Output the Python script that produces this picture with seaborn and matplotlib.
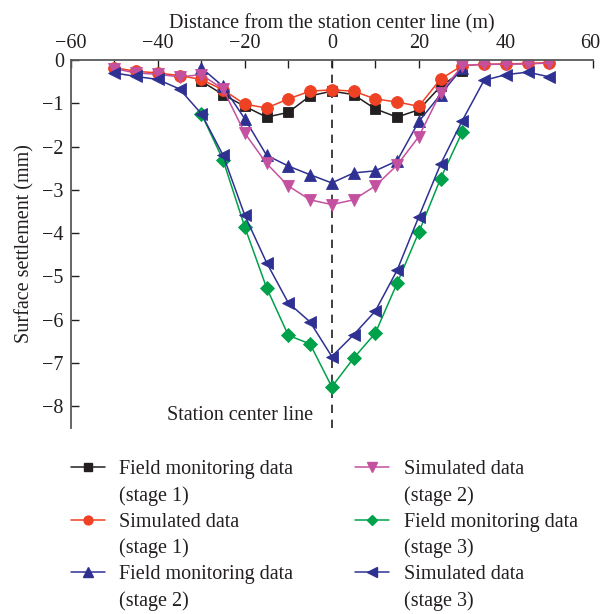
import matplotlib
matplotlib.use("Agg")
import matplotlib.pyplot as plt
from matplotlib.lines import Line2D
from matplotlib.transforms import ScaledTranslation
import seaborn as sns
import pandas as pd

# Distances from the station center line (m)
x_wide = [-50, -45, -40, -35, -30, -25, -20, -15, -10, -5, 0, 5, 10, 15, 20, 25, 30, 35, 40, 45, 50]
x_mid = [-30, -25, -20, -15, -10, -5, 0, 5, 10, 15, 20, 25, 30]

# Surface settlement (mm)
field_stage1 = [-0.49, -0.80, -1.07, -1.32, -1.21, -0.83, -0.72, -0.80, -1.13, -1.32, -1.15, -0.61, -0.26]
sim_stage1 = [-0.18, -0.26, -0.30, -0.36, -0.45, -0.69, -1.02, -1.11, -0.90, -0.72, -0.69,
              -0.72, -0.90, -0.97, -1.07, -0.44, -0.13, -0.10, -0.09, -0.08, -0.06]
field_stage2 = [-0.18, -0.61, -1.36, -2.20, -2.45, -2.65, -2.84, -2.61, -2.56, -2.33, -1.42, -0.80, -0.18]
sim_stage2 = [-0.20, -0.30, -0.33, -0.39, -0.34, -0.67, -1.69, -2.39, -2.91, -3.23, -3.34,
              -3.23, -2.91, -2.43, -1.77, -0.76, -0.13, -0.10, -0.10, -0.09, -0.07]
field_stage3 = [-1.24, -2.31, -3.86, -5.26, -6.36, -6.56, -7.55, -6.89, -6.31, -5.16, -3.98, -2.74, -1.66]
sim_stage3 = [-0.30, -0.38, -0.45, -0.67, -1.24, -2.20, -3.59, -4.68, -5.61, -6.05, -6.85,
              -6.35, -5.80, -4.86, -3.62, -2.41, -1.40, -0.47, -0.34, -0.28, -0.39]

names = ["Field monitoring data", "Simulated data",
         "Field monitoring data", "Simulated data",
         "Field monitoring data", "Simulated data"]
stages = ["(stage 1)", "(stage 1)", "(stage 2)", "(stage 2)", "(stage 3)", "(stage 3)"]

series = [
    (x_mid, field_stage1, "#231f20", "s", 7),
    (x_wide, sim_stage1, "#ef4123", "o", 8.5),
    (x_mid, field_stage2, "#2e3192", "^", 9),
    (x_wide, sim_stage2, "#c4519f", "v", 9),
    (x_mid, field_stage3, "#00a14b", "D", 7),
    (x_wide, sim_stage3, "#2e3192", "<", 9),
]

FS = 14.5
TXT = "#231f20"

sns.set_style("ticks")
plt.rcParams["font.family"] = ["Liberation Serif", "DejaVu Serif"]

fig = plt.figure(figsize=(6.0, 6.14), dpi=100)
ax = fig.add_axes([0.118, 0.303, 0.870, 0.5993])

handles = []
for (xs, ys, color, marker, ms), name in zip(series, names):
    df = pd.DataFrame({"x": xs, "y": ys})
    sns.lineplot(data=df, x="x", y="y", ax=ax, color=color, marker=marker,
                 markersize=ms, markeredgewidth=0.6, markeredgecolor=color,
                 linewidth=1.1, legend=False, sort=False)
    handles.append(Line2D([], [], color=color, marker=marker, markersize=ms * 0.75,
                          markeredgecolor=color, linewidth=1.1))

ax.axvline(0, color=TXT, linestyle=(0, (5, 4)), linewidth=1.2, zorder=0)
ax.text(-21.2, -8.22, "Station center line", ha="center", va="center", fontsize=FS,
        color=TXT)

ax.set_xlim(-60, 60)
ax.set_ylim(-8.5, 0)
ax.set_xticks([-60, -40, -20, 0, 20, 40, 60])
ax.set_xticks([-50, -30, -10, 10, 30, 50], minor=True)
ax.set_yticks([0, -1, -2, -3, -4, -5, -6, -7, -8])
ax.xaxis.tick_top()
ax.xaxis.set_label_position("top")
ax.tick_params(axis="both", which="both", direction="in", labelsize=FS,
               colors=TXT, width=1.0, length=6, pad=5)
ax.tick_params(axis="x", which="both", pad=5)
for side in ["bottom", "right"]:
    ax.spines[side].set_visible(False)
for side in ["top", "left"]:
    ax.spines[side].set_linewidth(1.3)
    ax.spines[side].set_color("#58595b")

ax.set_xlabel("Distance from the station center line (m)", fontsize=FS, labelpad=4,
              color=TXT)
ax.set_ylabel("Surface settlement (mm)", fontsize=FS, labelpad=6, color=TXT)

# keep the last top tick label inside the canvas
fig.canvas.draw()
last = ax.get_xticklabels()[-1]
last.set_transform(last.get_transform() + ScaledTranslation(-3 / 100, 0, fig.dpi_scale_trans))

# Two legend columns; each entry takes two rows (name, then stage)
blank = Line2D([], [], linestyle="none")
for col, x0 in ((0, 0.118), (1, 0.592)):
    hs, ls = [], []
    for i in range(col * 3, col * 3 + 3):
        hs += [handles[i], blank]
        ls += [names[i], stages[i]]
    fig.legend(hs, ls, loc="upper left", bbox_to_anchor=(x0, 0.2508),
               frameon=False, fontsize=FS, handlelength=1.7, handletextpad=0.7,
               labelspacing=0.34, borderaxespad=0, borderpad=0,
               labelcolor=TXT)

fig.savefig("out.png", dpi=100)
